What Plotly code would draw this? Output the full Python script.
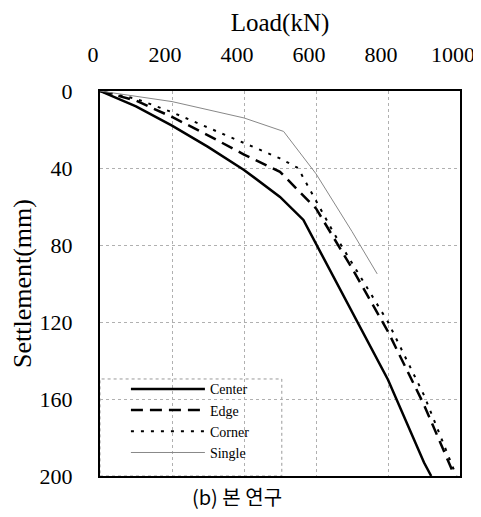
import plotly.graph_objects as go

# load (kN) vs settlement (mm)
center_load = [0, 100, 200, 300, 400, 500, 565, 700, 800, 900, 920]
center_settle = [0, 8, 18, 29, 41, 55, 67, 115, 150, 193, 200]

edge_load = [0, 100, 200, 300, 400, 500, 600, 700, 800, 900, 985]
edge_settle = [0, 5, 13.5, 23, 33, 42, 61, 92, 125, 163, 200]

corner_load = [0, 100, 200, 300, 400, 500, 550, 650, 800, 900, 990]
corner_settle = [0, 4, 11, 19, 27, 35, 40, 74, 120, 158, 200]

single_load = [0, 200, 400, 510, 600, 700, 770]
single_settle = [0, 5.5, 14, 21, 43, 73, 95]

x_ticks = [0, 200, 400, 600, 800, 1000]
y_ticks = [0, 40, 80, 120, 160, 200]

serif = "Liberation Serif"

fig = go.Figure()
fig.add_trace(go.Scatter(x=center_load, y=center_settle, mode="lines", name="Center",
                         line=dict(color="black", width=2.5)))
fig.add_trace(go.Scatter(x=edge_load, y=edge_settle, mode="lines", name="Edge",
                         line=dict(color="black", width=2.5, dash="12px,7px")))
fig.add_trace(go.Scatter(x=corner_load, y=corner_settle, mode="lines", name="Corner",
                         line=dict(color="black", width=2, dash="3px,7px")))
fig.add_trace(go.Scatter(x=single_load, y=single_settle, mode="lines", name="Single",
                         line=dict(color="#888888", width=1)))

# legend box (white, faint dotted border)
fig.add_shape(type="rect", xref="paper", yref="paper", x0=0, x1=0.505, y0=0, y1=0.252,
              fillcolor="white", line=dict(color="#999999", width=1, dash="dot"), layer="between")

# the page body has an 8px margin, so the figure is 8px smaller and margins 8px less
fig.update_layout(
    width=473, height=509,
    margin=dict(l=92, r=21, t=83, b=41),
    paper_bgcolor="white", plot_bgcolor="white",
    font=dict(family=serif, color="black"),
    legend=dict(x=0.072, y=0.02, xanchor="left", yanchor="bottom",
                bgcolor="rgba(0,0,0,0)", itemwidth=74,
                font=dict(family=serif, size=14), tracegroupgap=0),
    annotations=[dict(text="(b) 본 연구", x=(237 - 100) / 360, y=-(497 - 476) / 385,
                      xref="paper", yref="paper", xanchor="center", yanchor="middle",
                      showarrow=False, font=dict(family="Noto Sans CJK KR", size=20))],
)

fig.update_xaxes(
    side="top", range=[0, 1000], tickvals=x_ticks, automargin=False,
    title=dict(text="Load(kN)", font=dict(size=25), standoff=3),
    tickfont=dict(size=22), ticks="", ticklabelstandoff=18,
    ticklabelshift=-7, ticklabeloverflow="allow",
    showgrid=True, gridcolor="#b0b0b0", griddash="dot", gridwidth=1,
    showline=True, linecolor="black", linewidth=2, mirror=True, zeroline=False,
)
fig.update_yaxes(
    range=[200, 0], tickvals=y_ticks, automargin=False,
    title=dict(text="Settlement(mm)", font=dict(size=26), standoff=2),
    tickfont=dict(size=22), ticks="", ticklabelstandoff=21,
    showgrid=True, gridcolor="#b0b0b0", griddash="dot", gridwidth=1,
    showline=True, linecolor="black", linewidth=2, mirror=True, zeroline=False,
)

fig.write_html("out.html")
